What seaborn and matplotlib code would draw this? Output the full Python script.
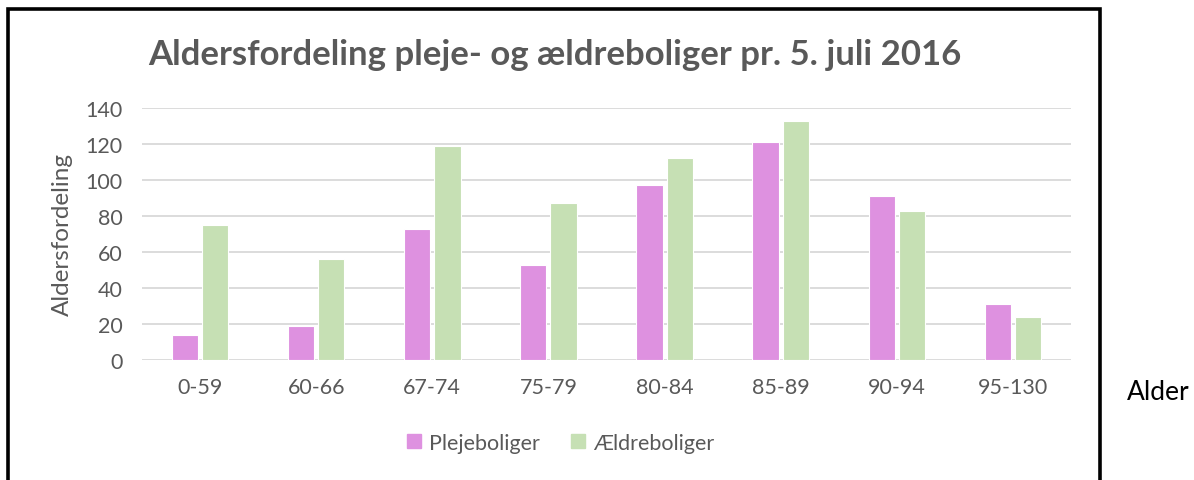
import matplotlib
matplotlib.use("Agg")
import matplotlib.pyplot as plt
import seaborn as sns
import pandas as pd
from matplotlib.patches import Rectangle
from matplotlib.lines import Line2D

categories = ["0-59", "60-66", "67-74", "75-79", "80-84", "85-89", "90-94", "95-130"]
plejeboliger = [14, 19, 73, 53, 97, 121, 91, 31]
aeldreboliger = [75, 56, 119, 87, 112, 133, 83, 24]
series_names = ["Plejeboliger", "Ældreboliger"]
colors = ["#DE91E0", "#C6E0B4"]

df = pd.DataFrame({
    "Alder": categories * 2,
    "Antal": plejeboliger + aeldreboliger,
    "Type": [series_names[0]] * len(categories) + [series_names[1]] * len(categories),
})

sns.set_theme(style="white")
plt.rcParams["font.family"] = ["Lato", "DejaVu Sans"]
gray = "#595959"

fig = plt.figure(figsize=(11.94, 4.81), dpi=100)
ax = fig.add_axes([142 / 1194, 1 - 361 / 481, (1071 - 142) / 1194, (361 - 109) / 481])

sns.barplot(data=df, x="Alder", y="Antal", hue="Type", order=categories,
            hue_order=series_names, palette=colors, saturation=1, width=0.52, gap=0.13,
            edgecolor="white", linewidth=0.8, ax=ax, legend=False, zorder=3)

ax.set_ylim(0, 140)
ax.set_yticks(range(0, 141, 20))
ax.set_xlim(-0.5, len(categories) - 0.5)
ax.yaxis.grid(True, color="#D9D9D9", linewidth=1.3, zorder=0)
ax.set_axisbelow(True)
for s in ax.spines.values():
    s.set_visible(False)
ax.tick_params(axis="both", length=0, labelsize=15.5, labelcolor=gray)
ax.tick_params(axis="x", pad=12)
ax.tick_params(axis="y", pad=14)
ax.set_xlabel("")
ax.set_ylabel("Aldersfordeling", fontsize=17.5, color=gray, labelpad=9)

fig.text(555 / 1194, 1 - 55 / 481, "Aldersfordeling pleje- og ældreboliger pr. 5. juli 2016",
         ha="center", va="center", fontsize=25, fontweight="bold", color=gray)

fig.text(1127 / 1194, 1 - 393 / 481, "Alder", ha="left", va="center", fontsize=19, color="black")

handles = [Line2D([0], [0], marker="s", linestyle="none", markersize=10,
                  markerfacecolor=c, markeredgecolor=c) for c in colors]
fig.legend(handles, series_names, loc="center", bbox_to_anchor=(560 / 1194, 1 - 444 / 481),
           ncol=2, frameon=False, fontsize=15.5, labelcolor=gray, handletextpad=0.3,
           columnspacing=1.4, handlelength=0.8)

border = Rectangle((8 / 1194, -0.1), (1100 - 8) / 1194, 1.1 - 10 / 481, transform=fig.transFigure,
                   fill=False, edgecolor="black", linewidth=2.6, clip_on=False)
fig.patches.append(border)

fig.savefig("out.png", dpi=100)
